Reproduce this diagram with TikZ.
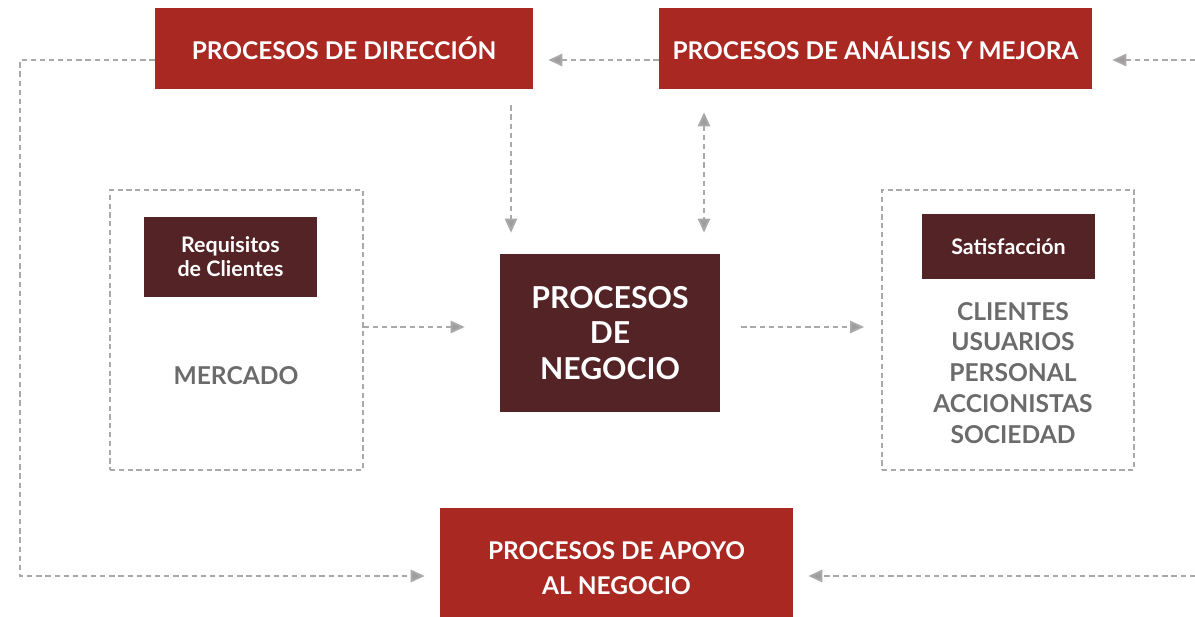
\documentclass[tikz,border=0pt]{standalone}
\usepackage{fontspec}
\setmainfont{Lato}
\usepackage{tikz}
\usetikzlibrary{arrows.meta}
\definecolor{procred}{HTML}{A92822}
\definecolor{procdark}{HTML}{532326}
\definecolor{procgrey}{HTML}{6B6B6B}
\definecolor{linegrey}{HTML}{A9A9A9}
\tikzstyle{redbox}=[rectangle,fill=procred,text=white,font=\bfseries\fontsize{13.9}{20}\selectfont,align=center,inner sep=0pt]
\tikzstyle{darkbox}=[rectangle,fill=procdark,text=white,font=\bfseries\fontsize{12.2}{13.8}\selectfont,align=center,inner sep=0pt]
\tikzstyle{groupbox}=[rectangle,draw=linegrey,line width=1.1pt,dash pattern=on 3pt off 2pt,inner sep=0pt]
\tikzstyle{greytext}=[text=procgrey,font=\bfseries\fontsize{14}{17.6}\selectfont,align=center]
\tikzstyle{flow}=[draw=linegrey,line width=1.1pt,dash pattern=on 3pt off 2.2pt,>={Triangle[length=8pt,width=7pt,fill=linegrey!90!procdark]},->]
\newcommand{\pxunit}{0.02cm}

\begin{document}
\begin{tikzpicture}[x=\pxunit,y=-\pxunit]
    \useasboundingbox (0,0) rectangle (1195,617);

    \node[redbox,minimum width=7.56cm,minimum height=1.62cm] (dir) at (344,48.5) {PROCESOS DE DIRECCIÓN};
    \node[redbox,minimum width=8.66cm,minimum height=1.62cm] (ana) at (875.5,48.5) {PROCESOS DE ANÁLISIS Y MEJORA};
    \node[redbox,minimum width=7.06cm,minimum height=2.4cm] (apo) at (616.5,568) {PROCESOS DE APOYO\\AL NEGOCIO};

    \node[darkbox,minimum width=4.4cm,minimum height=3.16cm,font=\bfseries\fontsize{17.2}{20.4}\selectfont] (neg) at (610,333) {PROCESOS\\DE\\NEGOCIO};

    \node[groupbox,minimum width=5.06cm,minimum height=5.6cm] (mer) at (236.5,330) {};
    \node[darkbox,minimum width=3.46cm,minimum height=1.6cm] (req) at (230.5,257) {Requisitos\\de Clientes};
    \node[greytext] (mertxt) at (236,376) {MERCADO};

    \node[groupbox,minimum width=5.04cm,minimum height=5.6cm] (grp) at (1008,330) {};
    \node[darkbox,minimum width=3.46cm,minimum height=1.3cm] (sat) at (1008.5,246.5) {Satisfacción};
    \node[greytext] (grptxt) at (1013,373) {CLIENTES\\USUARIOS\\PERSONAL\\ACCIONISTAS\\SOCIEDAD};

    \coordinate (top) at (0,60);
    \coordinate (bot) at (0,576);
    \coordinate (mid) at (0,327);
    \coordinate (lft) at (20,0);
    \coordinate (rgt) at (1195,0);
    \coordinate (vdir) at (511,0);
    \coordinate (vana) at (704,0);

    % retorno por la izquierda
    \draw[flow,shorten >=0.3cm] (dir.west |- top) -- (lft |- top) -- (lft |- bot) -- (apo.west |- bot);
    \draw[flow,shorten >=0.3cm] (ana.west |- top) -- (dir.east |- top);
    \draw[flow,shorten >=0.4cm] (rgt |- top) -- (ana.east |- top);
    \draw[flow,shorten >=0.3cm] (rgt |- bot) -- (apo.east |- bot);

    \draw[flow,shorten <=0.32cm,shorten >=0.42cm] (vdir |- dir.south) -- (vdir |- neg.north);
    \draw[flow,<->,shorten <=0.46cm,shorten >=0.42cm] (vana |- ana.south) -- (vana |- neg.north);

    \draw[flow,shorten >=0.7cm] (mer.east |- mid) -- (neg.west |- mid);
    \draw[flow,shorten <=0.42cm,shorten >=0.34cm] (neg.east |- mid) -- (grp.west |- mid);
\end{tikzpicture}
\end{document}
